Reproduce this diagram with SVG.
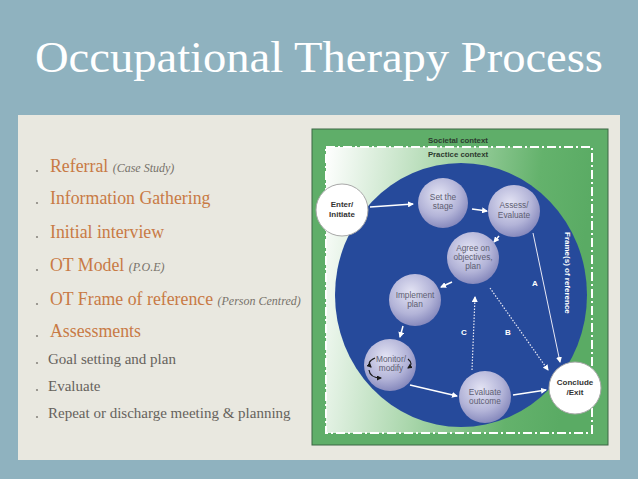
<svg xmlns="http://www.w3.org/2000/svg" width="638" height="479" viewBox="0 0 638 479">
<defs>
<style>
.title{font-family:"Liberation Serif",serif;font-size:44px;fill:#ffffff}
.or{font-family:"Liberation Serif",serif;font-size:17.8px;fill:#c87a45}
.gr{font-family:"Liberation Serif",serif;font-size:15px;fill:#66625c}
.it{font-family:"Liberation Serif",serif;font-style:italic;font-size:12px;fill:#77726a}
.nt{font-family:"Liberation Sans",sans-serif;font-size:8.3px;fill:#5e5e72;text-anchor:middle}
.wt{font-family:"Liberation Sans",sans-serif;font-size:8px;font-weight:bold;fill:#333333;text-anchor:middle}
.ctx{font-family:"Liberation Sans",sans-serif;font-size:7.8px;font-weight:bold;fill:#2d3a2f;text-anchor:middle}
.lab{font-family:"Liberation Sans",sans-serif;font-size:8px;font-weight:bold;fill:#ffffff;text-anchor:middle}
.sph{fill:url(#sphere)}
.wc{fill:#ffffff;stroke:#a8a8a8;stroke-width:1}
.arr{stroke:#ffffff;stroke-width:1.5;fill:none;marker-end:url(#ah)}
.thin{stroke:#e8e8f4;stroke-width:1;fill:none;marker-end:url(#ah)}
.dot{stroke:#e8e8f4;stroke-width:1.2;fill:none;stroke-dasharray:1.5 1.5;marker-end:url(#ah)}
.blk{stroke:#1a1a1a;stroke-width:1.2;fill:none;marker-end:url(#bh)}
.bul{fill:#8a8680}
</style>
<radialGradient id="sphere" cx="0.42" cy="0.35" r="0.7">
<stop offset="0" stop-color="#e4e4f4"/>
<stop offset="0.6" stop-color="#b3b4d8"/>
<stop offset="1" stop-color="#7f82b8"/>
</radialGradient>
<linearGradient id="inner" x1="0" y1="0" x2="1" y2="0.15">
<stop offset="0" stop-color="#ffffff"/>
<stop offset="0.45" stop-color="#a9d6ab"/>
<stop offset="0.8" stop-color="#64b26c"/>
<stop offset="1" stop-color="#5aab64"/>
</linearGradient>
<marker id="ah" markerWidth="6" markerHeight="6" refX="5" refY="3" orient="auto" markerUnits="userSpaceOnUse">
<path d="M0,0 L6,3 L0,6 Z" fill="#ffffff"/>
</marker>
<marker id="bh" markerWidth="5" markerHeight="5" refX="4" refY="2.5" orient="auto" markerUnits="userSpaceOnUse">
<path d="M0,0 L5,2.5 L0,5 Z" fill="#1a1a1a"/>
</marker>
</defs>

<rect x="0" y="0" width="638" height="479" fill="#8fb2bf"/>
<text class="title" x="35" y="72" textLength="568" lengthAdjust="spacingAndGlyphs">Occupational Therapy Process</text>
<rect x="18" y="115" width="602" height="345" fill="#e9e8e0"/>

<g id="list">
<circle class="bul" cx="37" cy="171" r="1.1"/>
<text class="or" x="50" y="172">Referral <tspan class="it">(Case Study)</tspan></text>
<circle class="bul" cx="37" cy="203" r="1.1"/>
<text class="or" x="50" y="204">Information Gathering</text>
<circle class="bul" cx="37" cy="237" r="1.1"/>
<text class="or" x="50" y="238">Initial interview</text>
<circle class="bul" cx="37" cy="270" r="1.1"/>
<text class="or" x="50" y="271">OT Model <tspan class="it">(P.O.E)</tspan></text>
<circle class="bul" cx="37" cy="304" r="1.1"/>
<text class="or" x="50" y="305">OT Frame of reference <tspan class="it">(Person Centred)</tspan></text>
<circle class="bul" cx="37" cy="336" r="1.1"/>
<text class="or" x="50" y="337">Assessments</text>
<circle class="bul" cx="37" cy="363" r="1.1"/>
<text class="gr" x="48" y="364">Goal setting and plan</text>
<circle class="bul" cx="37" cy="390" r="1.1"/>
<text class="gr" x="48" y="391">Evaluate</text>
<circle class="bul" cx="37" cy="417" r="1.1"/>
<text class="gr" x="48" y="418">Repeat or discharge meeting &amp; planning</text>
</g>

<g id="figure">
<rect x="312" y="129" width="296" height="316" fill="#5fae69" stroke="#3c6645" stroke-width="1"/>
<rect x="326" y="147" width="266" height="286" fill="url(#inner)"/>
<rect x="326" y="147" width="266" height="286" fill="none" stroke="#ffffff" stroke-width="2" stroke-dasharray="9 3 2 3"/>
<text class="ctx" x="458" y="143">Societal context</text>
<text class="ctx" x="458" y="157">Practice context</text>
<ellipse cx="461" cy="295" rx="126" ry="132" fill="#264a9b"/>
<text class="lab" transform="translate(565,232) rotate(90)" style="text-anchor:start">Frame(s) of reference</text>
</g>

<g id="connectors">
<line class="arr" x1="370" y1="207" x2="413" y2="204"/>
<line class="arr" x1="472" y1="209" x2="487" y2="211"/>
<line class="arr" x1="499" y1="236" x2="494" y2="242"/>
<line class="arr" x1="452" y1="282" x2="441" y2="287"/>
<line class="arr" x1="403" y1="326" x2="400" y2="337"/>
<line class="arr" x1="410" y1="385" x2="457" y2="396"/>
<line class="arr" x1="513" y1="395" x2="546" y2="390"/>
<line class="thin" x1="533" y1="233" x2="560" y2="362"/>
<line class="dot" x1="490" y1="288" x2="548" y2="370"/>
<line class="dot" x1="472" y1="370" x2="475" y2="297"/>
<text class="lab" x="535" y="286">A</text>
<text class="lab" x="508" y="335">B</text>
<text class="lab" x="464" y="335">C</text>
</g>

<g id="enter">
<circle class="wc" cx="342" cy="210" r="26"/>
<text class="wt" x="342" y="207">Enter/</text>
<text class="wt" x="342" y="217">Initiate</text>
</g>
<g id="stage">
<circle class="sph" cx="443" cy="203" r="25"/>
<text class="nt" x="443" y="200">Set the</text>
<text class="nt" x="443" y="209">stage</text>
</g>
<g id="assess">
<circle class="sph" cx="514" cy="211" r="26"/>
<text class="nt" x="514" y="208">Assess/</text>
<text class="nt" x="514" y="218">Evaluate</text>
</g>
<g id="agree">
<circle class="sph" cx="473" cy="258" r="26"/>
<text class="nt" x="473" y="251">Agree on</text>
<text class="nt" x="473" y="260">objectives,</text>
<text class="nt" x="473" y="269">plan</text>
</g>
<g id="implement">
<circle class="sph" cx="415" cy="300" r="26"/>
<text class="nt" x="415" y="298">Implement</text>
<text class="nt" x="415" y="307">plan</text>
</g>
<g id="monitor">
<circle class="sph" cx="390" cy="365" r="26"/>
<text class="nt" x="391" y="362">Monitor/</text>
<text class="nt" x="391" y="371">modify</text>
<path class="blk" d="M375,358 Q366,362 371,367"/>
<path class="blk" d="M369,370 Q370,378 381,378"/>
<path class="blk" d="M408,359 Q414,364 408,368"/>
</g>
<g id="evaluate">
<circle class="sph" cx="485" cy="397" r="26"/>
<text class="nt" x="485" y="395">Evaluate</text>
<text class="nt" x="485" y="404">outcome</text>
</g>
<g id="conclude">
<circle class="wc" cx="575" cy="388" r="26"/>
<text class="wt" x="575" y="385">Conclude</text>
<text class="wt" x="575" y="395">/Exit</text>
</g>
</svg>
